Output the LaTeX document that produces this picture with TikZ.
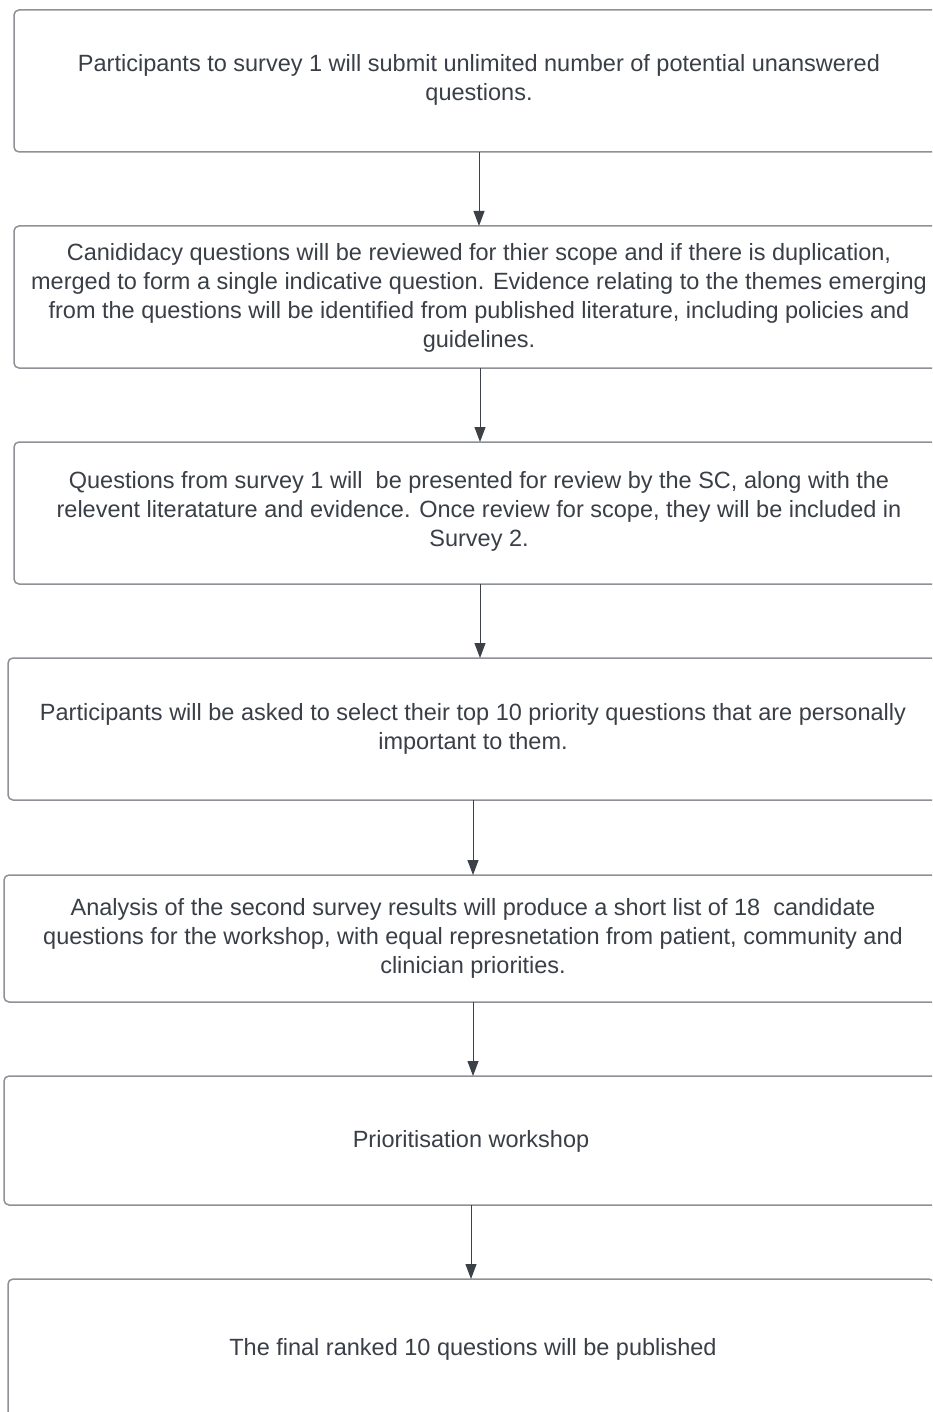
\documentclass[tikz,border=0pt]{standalone}
\usepackage{fontspec}
\setmainfont{Liberation Sans}
\usetikzlibrary{arrows.meta}
\definecolor{txtc}{HTML}{3A3F47}
\definecolor{boxc}{HTML}{8E9196}
\definecolor{arrc}{HTML}{3C4047}
\tikzset{
  flowbox/.style={draw=boxc, line width=1.5pt, rounded corners=5pt, fill=white,
    anchor=north west, inner sep=0pt, outer sep=0pt},
  flowtext/.style={text=txtc, align=center, font=\fontsize{23.5}{29}\selectfont, inner sep=0pt},
  flowarrow/.style={draw=arrc, line width=1pt, -{Triangle[width=11pt,length=15pt]}, fill=arrc}
}
\begin{document}
\begin{tikzpicture}[x=1pt,y=-1pt]
\useasboundingbox (0,0) rectangle (932,1412);
\begin{scope}
\clip (0,0) rectangle (932,1412);
% boxes
\node[flowbox, minimum width=930pt, minimum height=142pt] (b1) at (14,10) {};
\node[flowbox, minimum width=932pt, minimum height=142pt] (b2) at (14,226) {};
\node[flowbox, minimum width=932pt, minimum height=142pt] (b3) at (14,442) {};
\node[flowbox, minimum width=930pt, minimum height=142pt] (b4) at (8,658) {};
\node[flowbox, minimum width=938pt, minimum height=127pt] (b5) at (4,875) {};
\node[flowbox, minimum width=934pt, minimum height=129pt] (b6) at (4,1076) {};
\node[flowbox, minimum width=926pt, minimum height=180pt] (b7) at (8,1279) {};
% texts
\node[flowtext] (t1) at (479,80) {Participants to survey 1 will submit unlimited number of potential unanswered\\questions.};
\node[flowtext] (t2) at (479,298) {Canididacy questions will be reviewed for thier scope and if there is duplication,\\merged to form a single indicative question. Evidence relating to the themes emerging\\from the questions will be identified from published literature, including policies and\\guidelines.};
\node[flowtext] (t3) at (479,511) {Questions from survey 1 will\ \ be presented for review by the SC, along with the\\relevent literatature and evidence. Once review for scope, they will be included in\\Survey 2.};
\node[flowtext] (t4) at (473,729) {Participants will be asked to select their top 10 priority questions that are personally\\important to them.};
\node[flowtext] (t5) at (473,938) {Analysis of the second survey results will produce a short list of 18\ \ candidate\\questions for the workshop, with equal represnetation from patient, community and\\clinician priorities.};
\node[flowtext] (t6) at (471,1141) {Prioritisation workshop};
\node[flowtext] (t7) at (473,1349) {The final ranked 10 questions will be published};
\end{scope}
% arrows
\draw[flowarrow] (b1.south) -- (b1.south |- b2.north);
\draw[flowarrow] (b2.south) -- (b2.south |- b3.north);
\draw[flowarrow] (b3.south) -- (b3.south |- b4.north);
\draw[flowarrow] (b4.south) -- (b4.south |- b5.north);
\draw[flowarrow] (b5.south) -- (b5.south |- b6.north);
\draw[flowarrow] (b6.south) -- (b6.south |- b7.north);
\end{tikzpicture}
\end{document}
